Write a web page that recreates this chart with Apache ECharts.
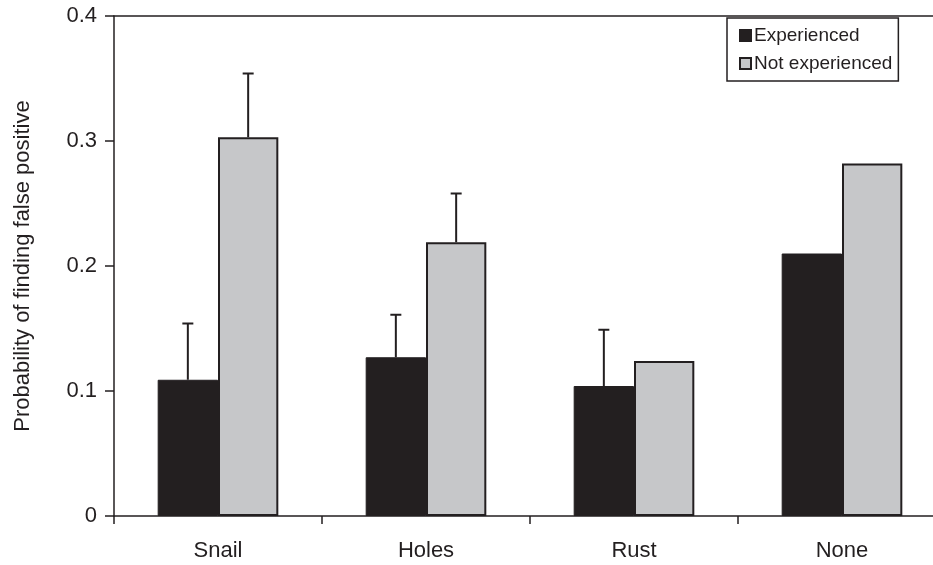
<!DOCTYPE html>
<html>
<head>
<meta charset="utf-8">
<script src="https://cdn.jsdelivr.net/npm/echarts@6/dist/echarts.min.js"></script>
<style>html,body{margin:0;padding:0;background:#fff}#c{width:933px;height:565px}</style>
</head>
<body>
<div id="c"></div>
<script>
var categories = ['Snail', 'Holes', 'Rust', 'None'];
var experienced = [0.109, 0.127, 0.104, 0.210];
var notExperienced = [0.303, 0.219, 0.124, 0.282];
var experiencedErrTop = [0.154, 0.161, 0.149, null];
var notExperiencedErrTop = [0.354, 0.258, null, null];
var yTicks = [0, 0.1, 0.2, 0.3, 0.4];

var INK = '#231f20';
var GREY = '#c6c7c9';
var GAP = 0.42;
var FONT = '"Liberation Sans", Arial, sans-serif';

function errSeries(tops, side) {
  return {
    type: 'custom',
    silent: true,
    z: 5,
    data: tops.map(function (v, i) { return [i, v]; }),
    renderItem: function (params, api) {
      var v = api.value(1);
      if (v === null || isNaN(v)) return null;
      var catW = api.size([1, 0])[0];
      var bw = catW * (1 - GAP) / 2;
      var c = api.coord([api.value(0), v]);
      var base = api.coord([api.value(0), side === 0 ? experienced[api.value(0)] : notExperienced[api.value(0)]]);
      var x = c[0] + (side === 0 ? -bw / 2 : bw / 2);
      var cap = 5.5;
      return {
        type: 'group',
        children: [
          { type: 'line', shape: { x1: x, y1: base[1], x2: x, y2: c[1] }, style: { stroke: INK, lineWidth: 2 } },
          { type: 'line', shape: { x1: x - cap, y1: c[1], x2: x + cap, y2: c[1] }, style: { stroke: INK, lineWidth: 2 } }
        ]
      };
    }
  };
}

var chart = echarts.init(document.getElementById('c'), null, { renderer: 'canvas' });
chart.setOption({
  animation: false,
  backgroundColor: '#fff',
  textStyle: { fontFamily: FONT, color: INK },
  grid: { left: 114, top: 16, right: -13, bottom: 49, containLabel: false, outerBoundsMode: 'none' },
  legend: {
    orient: 'vertical',
    left: 727, top: 18,
    padding: [8, 6, 8, 12],
    itemGap: 9,
    itemWidth: 11, itemHeight: 11,
    borderColor: INK, borderWidth: 1.5,
    backgroundColor: '#fff',
    textStyle: { fontSize: 19, color: INK, fontFamily: FONT, padding: [0, 0, 0, -2] },
    data: [{ name: 'Experienced', icon: 'rect' }, { name: 'Not experienced', icon: 'rect' }]
  },
  xAxis: [{
    type: 'category',
    data: categories,
    axisLine: { lineStyle: { color: INK, width: 1.5 } },
    axisTick: { show: true, length: 8, lineStyle: { color: INK, width: 1.5 } },
    axisLabel: { fontSize: 22, color: INK, margin: 24, fontFamily: FONT },
    splitLine: { show: false }
  }, {
    type: 'category',
    data: categories,
    position: 'top',
    axisLine: { show: true, lineStyle: { color: INK, width: 1.5 } },
    axisTick: { show: false },
    axisLabel: { show: false },
    splitLine: { show: false }
  }],
  yAxis: {
    type: 'value',
    min: 0, max: 0.4, interval: 0.1,
    name: 'Probability of finding false positive',
    nameLocation: 'middle',
    nameGap: 80,
    nameTextStyle: { fontSize: 22, color: INK, fontFamily: FONT },
    axisLine: { show: true, lineStyle: { color: INK, width: 1.5 } },
    axisTick: { show: true, inside: false, length: 9, lineStyle: { color: INK, width: 1.5 } },
    axisLabel: {
      fontSize: 22, color: INK, margin: 17, fontFamily: FONT,
      formatter: function (v) {
        for (var i = 0; i < yTicks.length; i++) { if (Math.abs(yTicks[i] - v) < 1e-9) return String(yTicks[i]); }
        return '';
      }
    },
    splitLine: { show: false }
  },
  series: [
    {
      name: 'Experienced', type: 'bar', data: experienced,
      barGap: '0%', barCategoryGap: (GAP * 100) + '%',
      itemStyle: { color: INK, borderColor: INK, borderWidth: 1 }
    },
    {
      name: 'Not experienced', type: 'bar', data: notExperienced,
      barGap: '0%', barCategoryGap: (GAP * 100) + '%',
      itemStyle: { color: GREY, borderColor: INK, borderWidth: 2 }
    },
    errSeries(experiencedErrTop, 0),
    errSeries(notExperiencedErrTop, 1)
  ]
});
</script>
</body>
</html>
